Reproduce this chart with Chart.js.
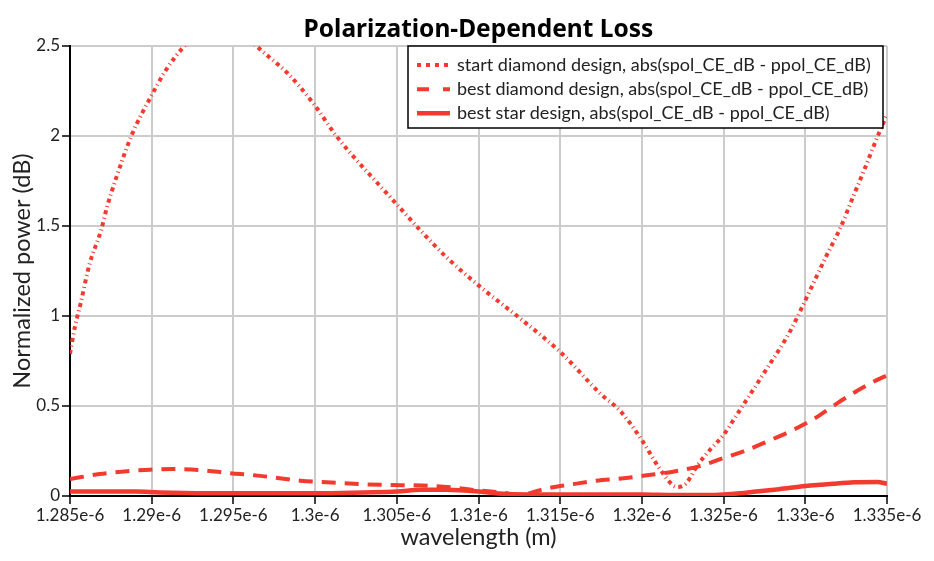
<!DOCTYPE html>
<html>
<head>
<meta charset="utf-8">
<script src="https://cdn.jsdelivr.net/npm/chart.js@4/dist/chart.umd.min.js"></script>
<style>
html,body{margin:0;padding:0;background:#fff;}
#wrap{width:934px;height:561px;position:relative;}
</style>
</head>
<body>
<div id="wrap"><canvas id="c" width="934" height="561"></canvas></div>
<script>
// ---- data (wavelength in metres, PDL in dB) ----
const startDiamondX = [1.2850e-6,1.2853e-6,1.28565e-6,1.2862e-6,1.2869e-6,1.28725e-6,1.2878e-6,1.2888e-6,1.2899e-6,1.2909e-6,1.2919e-6,1.2930e-6,1.2942e-6,1.2953e-6,1.2964e-6,1.2973e-6,1.2983e-6,1.2999e-6,1.3013e-6,1.3025e-6,1.3037e-6,1.3050e-6,1.3065e-6,1.3080e-6,1.3100e-6,1.3125e-6,1.3150e-6,1.3175e-6,1.3187e-6,1.3200e-6,1.3211e-6,1.3219e-6,1.3222e-6,1.3227e-6,1.3234e-6,1.3242e-6,1.3250e-6,1.3258e-6,1.32745e-6,1.3291e-6,1.3300e-6,1.3313e-6,1.33215e-6,1.33296e-6,1.3336e-6,1.3343e-6,1.3350e-6];
const startDiamondY = [0.79,0.94,1.07,1.29,1.475,1.60,1.76,2.01,2.21,2.37,2.49,2.59,2.62,2.58,2.50,2.43,2.35,2.18,2.00,1.87,1.75,1.62,1.47,1.33,1.17,0.99,0.80,0.565,0.47,0.31,0.15,0.06,0.05,0.07,0.17,0.26,0.34,0.45,0.68,0.92,1.087,1.336,1.49,1.67,1.81,1.97,2.12];

const bestDiamondX = [1.2850e-6,1.2868e-6,1.2885e-6,1.2899e-6,1.2913e-6,1.2930e-6,1.2948e-6,1.2962e-6,1.2974e-6,1.2991e-6,1.3010e-6,1.3030e-6,1.3052e-6,1.3066e-6,1.3083e-6,1.3099e-6,1.3115e-6,1.3125e-6,1.3142e-6,1.3158e-6,1.3172e-6,1.3189e-6,1.3203e-6,1.3219e-6,1.3236e-6,1.3248e-6,1.3263e-6,1.3276e-6,1.3291e-6,1.3305e-6,1.3317e-6,1.3330e-6,1.3344e-6,1.3350e-6];
const bestDiamondY = [0.094,0.122,0.138,0.146,0.150,0.144,0.127,0.116,0.104,0.085,0.075,0.065,0.060,0.058,0.048,0.032,0.018,0.006,0.043,0.066,0.085,0.098,0.115,0.135,0.168,0.205,0.250,0.300,0.360,0.427,0.500,0.575,0.645,0.670];

const bestStarX = [1.2850e-6,1.2870e-6,1.2890e-6,1.2905e-6,1.2950e-6,1.3000e-6,1.3030e-6,1.3050e-6,1.3065e-6,1.3080e-6,1.3100e-6,1.3110e-6,1.3130e-6,1.3150e-6,1.3180e-6,1.3200e-6,1.3220e-6,1.3240e-6,1.3250e-6,1.3260e-6,1.3270e-6,1.3284e-6,1.3300e-6,1.3317e-6,1.3330e-6,1.3344e-6,1.3350e-6];
const bestStarY = [0.025,0.025,0.025,0.020,0.015,0.015,0.020,0.025,0.035,0.035,0.025,0.015,0.008,0.008,0.008,0.008,0.005,0.005,0.008,0.015,0.025,0.038,0.055,0.068,0.076,0.078,0.068];

const seriesLabels = [
  'start diamond design, abs(spol_CE_dB - ppol_CE_dB)',
  'best diamond design, abs(spol_CE_dB - ppol_CE_dB)',
  'best star design, abs(spol_CE_dB - ppol_CE_dB)'
];
const xTickValues = [1.285e-6,1.29e-6,1.295e-6,1.3e-6,1.305e-6,1.31e-6,1.315e-6,1.32e-6,1.325e-6,1.33e-6,1.335e-6];
const xTickLabels = ['1.285e-6','1.29e-6','1.295e-6','1.3e-6','1.305e-6','1.31e-6','1.315e-6','1.32e-6','1.325e-6','1.33e-6','1.335e-6'];
const yTickValues = [0,0.5,1,1.5,2,2.5];
const yTickLabels = ['0','0.5','1','1.5','2','2.5'];

const RED = '#f23a2e';
const FONT = 'Lato';

function pts(xs, ys){ return xs.map((x,i)=>({x:x, y:ys[i]})); }

const dashStyles = [[4,3.5,1,3.5],[14,9],[]];
const legendDash = [[4,5],[12,14],[]];
const widths = [4,4,4.5];

const boxLegend = {
  id:'boxLegend',
  afterDatasetsDraw(chart){
    const ctx = chart.ctx, ca = chart.chartArea;
    const w = 475, h = 82;
    const x0 = ca.right - 4 - w, y0 = ca.top;
    ctx.save();
    ctx.fillStyle = '#fff';
    ctx.fillRect(x0, y0, w, h);
    ctx.strokeStyle = '#000';
    ctx.lineWidth = 1.5;
    ctx.strokeRect(x0, y0, w, h);
    const rows = [19, 43.3, 67.3];
    chart.data.datasets.forEach((ds, i) => {
      const y = y0 + rows[i];
      ctx.beginPath();
      ctx.setLineDash(legendDash[i]);
      ctx.lineWidth = widths[i];
      ctx.strokeStyle = ds.borderColor;
      ctx.lineCap = 'butt';
      ctx.moveTo(x0 + 9, y);
      ctx.lineTo(x0 + 42, y);
      ctx.stroke();
      ctx.setLineDash([]);
      ctx.fillStyle = '#222';
      ctx.font = '18px ' + FONT;
      ctx.textBaseline = 'middle';
      ctx.textAlign = 'left';
      ctx.fillText(ds.label, x0 + 49, y);
    });
    ctx.restore();
  }
};

new Chart(document.getElementById('c'), {
  type: 'line',
  data: {
    datasets: [
      {label: seriesLabels[0], data: pts(startDiamondX, startDiamondY), borderColor: RED, borderWidth: widths[0], borderDash: dashStyles[0], pointRadius: 0, cubicInterpolationMode: 'monotone', clip: 0, fill: false},
      {label: seriesLabels[1], data: pts(bestDiamondX, bestDiamondY), borderColor: RED, borderWidth: widths[1], borderDash: dashStyles[1], pointRadius: 0, cubicInterpolationMode: 'monotone', clip: 0, fill: false},
      {label: seriesLabels[2], data: pts(bestStarX, bestStarY), borderColor: RED, borderWidth: widths[2], pointRadius: 0, cubicInterpolationMode: 'monotone', clip: 0, fill: false}
    ]
  },
  options: {
    responsive: false,
    animation: false,
    devicePixelRatio: 1,
    layout: {padding: {left: 0, right: 47, top: 0, bottom: 0}},
    plugins: {
      legend: {display: false},
      tooltip: {enabled: false},
      title: {
        display: true,
        fullSize: false,
        text: 'Polarization-Dependent Loss',
        color: '#000',
        font: {family: 'Noto Sans', weight: 'bold', size: 24.5, lineHeight: 1.2},
        padding: {top: 15, bottom: 1.6}
      }
    },
    scales: {
      x: {
        type: 'linear',
        min: 1.285e-6, max: 1.335e-6,
        afterBuildTicks: s => { s.ticks = xTickValues.map(v => ({value: v})); },
        afterFit: s => { s.height = 65; },
        ticks: {
          callback: (v, i) => xTickLabels[i],
          color: '#222', font: {family: FONT, size: 17}, padding: 1, maxRotation: 0, autoSkip: false
        },
        grid: {color: '#cccccc', lineWidth: 2, tickColor: '#000', tickLength: 8, tickWidth: 1.5},
        border: {color: '#000', width: 2},
        title: {display: true, text: 'wavelength (m)', color: '#222', font: {family: FONT, size: 23.5, lineHeight: 1.2}, padding: {top: 0, bottom: 9}}
      },
      y: {
        type: 'linear',
        min: 0, max: 2.5,
        afterBuildTicks: s => { s.ticks = yTickValues.map(v => ({value: v})); },
        afterFit: s => { s.width = 70; },
        ticks: {
          callback: (v, i) => yTickLabels[i],
          color: '#222', font: {family: FONT, size: 17}, padding: 2
        },
        grid: {color: '#cccccc', lineWidth: 2, tickColor: '#000', tickLength: 8, tickWidth: 1.5},
        border: {color: '#000', width: 2},
        title: {display: true, text: 'Normalized power (dB)', color: '#222', font: {family: FONT, size: 23.5, lineHeight: 1.2}, padding: {top: 8, bottom: 0}}
      }
    }
  },
  plugins: [boxLegend]
});
</script>
</body>
</html>
